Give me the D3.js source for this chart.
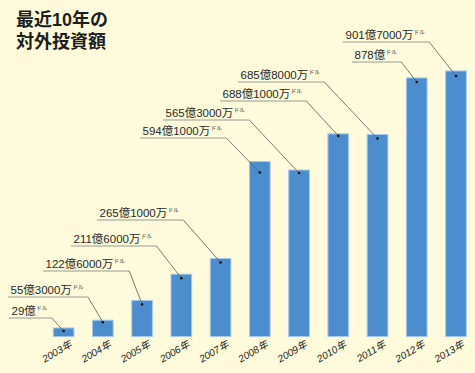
<!DOCTYPE html>
<html>
<head>
<meta charset="utf-8">
<script src="https://cdn.jsdelivr.net/npm/d3@7"></script>
<style>
  body { margin: 0; background: #fdfbdc; }
  svg { display: block; }
  #wrap { position: relative; width: 475px; height: 373px; }
  #title {
    position: absolute; left: 16px; top: 10px;
    font-family: 'Liberation Sans', 'Noto Sans CJK JP', sans-serif; font-weight: bold;
    font-size: 18px; line-height: 21.5px; color: #1e1e1e;
  }
</style>
</head>
<body>
<div id="wrap">
  <div id="my_dataviz"></div>
  <div id="title"></div>
</div>
<script>
// years and outward investment, in 億ドル
var years = ["2003", "2004", "2005", "2006", "2007", "2008", "2009", "2010", "2011", "2012", "2013"];
var values = [29, 55.3, 122.6, 211.6, 265.1, 594.1, 565.3, 688.1, 685.8, 878, 901.7];
var valueLabels = ["29億", "55億3000万", "122億6000万", "211億6000万", "265億1000万",
  "594億1000万", "565億3000万", "688億1000万", "685億8000万", "878億", "901億7000万"];
var unitLabel = "ドル";
var titleLines = ["最近10年の", "対外投資額"];

// where each callout sits: [underline start x, underline y, dot drop below bar top]
var calloutPos = [
  [9, 318, 3], [8, 297, 2], [43, 271, 4], [71, 246, 4], [97, 220, 4],
  [140, 138, 11], [163, 120, 3], [220, 101, 2], [238, 82, 4], [352, 62, 4], [343, 42, 5]
];

var width = 475, height = 373;
var labelFont = "'Liberation Sans', 'Noto Sans CJK JP', sans-serif";

// title (html so the two lines keep a tight line box)
d3.select("#title")
  .selectAll("div")
  .data(titleLines)
  .enter()
  .append("div")
    .text(function(d) { return d; });

var svg = d3.select("#my_dataviz")
  .append("svg")
    .attr("width", width)
    .attr("height", height);

svg.append("rect")
  .attr("width", width)
  .attr("height", height)
  .attr("fill", "#fdfbdc");

var x = d3.scaleBand()
  .domain(years)
  .range([44, 475.6])
  .paddingInner(0.473)
  .paddingOuter(0.2365);

var y = d3.scaleLinear()
  .domain([0, 1000])
  .range([336.5, 42]);

// bars
svg.selectAll("mybar")
  .data(years)
  .enter()
  .append("rect")
    .attr("x", function(d) { return x(d); })
    .attr("y", function(d, i) { return y(values[i]); })
    .attr("width", x.bandwidth())
    .attr("height", function(d, i) { return y(0) - y(values[i]); })
    .attr("fill", "#4b8dcd")
    .attr("stroke", "#a6c9ea")
    .attr("stroke-width", 1);

// x axis labels, slanted
var xAxis = svg.append("g")
  .attr("transform", "translate(0," + y(0) + ")")
  .call(d3.axisBottom(x).tickSize(0).tickFormat(function(d) { return d + "年"; }));
xAxis.select(".domain").remove();
xAxis.selectAll("text")
  .attr("font-family", labelFont)
  .attr("font-size", 10)
  .attr("font-style", "italic")
  .attr("fill", "#222")
  .attr("text-anchor", "end")
  .attr("dy", 0)
  .attr("y", 0)
  .attr("transform", "translate(9,10) rotate(-30)");

// callouts
var callout = svg.selectAll("callout")
  .data(years)
  .enter()
  .append("g");

var labelText = callout.append("text")
  .attr("x", function(d, i) { return calloutPos[i][0] + 2.5; })
  .attr("y", function(d, i) { return calloutPos[i][1] - 3; })
  .attr("font-family", labelFont)
  .attr("font-size", 11.5)
  .attr("fill", "#2a2a2a");
labelText.append("tspan")
  .text(function(d, i) { return valueLabels[i]; });
labelText.append("tspan")
  .attr("font-size", 5.5)
  .attr("dx", 0.5)
  .attr("dy", -5)
  .text(unitLabel);

callout.each(function(d, i) {
  var g = d3.select(this);
  var box = g.select("text").node().getBBox();
  var x0 = calloutPos[i][0],
      ly = calloutPos[i][1],
      x1 = box.x + box.width + 4;
  var dx = x(d) + x.bandwidth() / 2,
      dy = y(values[i]) + calloutPos[i][2];

  g.append("line")
    .attr("x1", x0).attr("x2", x1)
    .attr("y1", ly).attr("y2", ly)
    .attr("stroke", "#9a9a92")
    .attr("stroke-width", 1);
  g.append("line")
    .attr("x1", x1).attr("y1", ly)
    .attr("x2", dx).attr("y2", dy)
    .attr("stroke", "#5a5a5a")
    .attr("stroke-width", 0.8);
  g.append("circle")
    .attr("cx", dx)
    .attr("cy", dy)
    .attr("r", 1.3)
    .attr("fill", "#111");
});
</script>
</body>
</html>
